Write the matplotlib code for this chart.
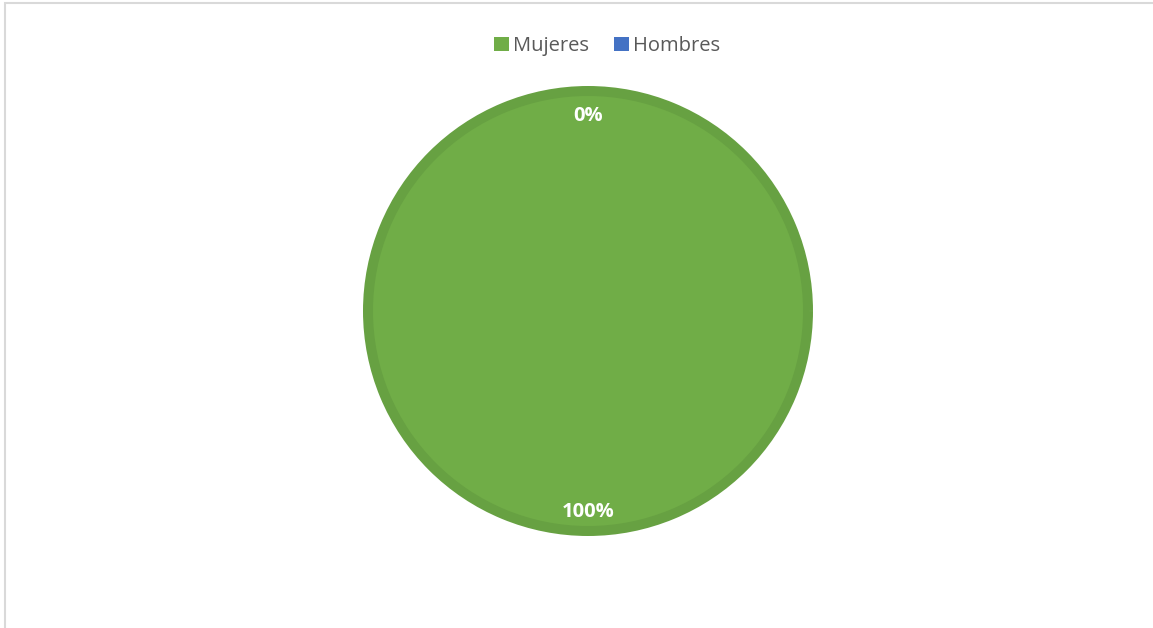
import matplotlib.pyplot as plt
from matplotlib.patches import Rectangle

# data
labels = ["Mujeres", "Hombres"]
values = [100, 0]
colors = ["#70AD47", "#4472C4"]
edge_colors = ["#67A142", "#4472C4"]

plt.rcParams['font.family'] = ['Open Sans', 'DejaVu Sans']

W, H = 1153, 628
fig = plt.figure(figsize=(W / 100, H / 100), dpi=100)

# chart frame (only left and top edges visible in the original crop)
fig.patches.append(Rectangle((5 / W, -0.1), 1.2, (H - 3) / H + 0.1,
                             transform=fig.transFigure, fill=False,
                             edgecolor="#D9D9D9", linewidth=1.5))

cx, cy, R = 588, 311, 225
ax = fig.add_axes([(cx - R) / W, (H - cy - R) / H, 2 * R / W, 2 * R / H])

wedges, texts, autotexts = ax.pie(values, colors=colors, startangle=90,
                                  counterclock=False, radius=220 / 225,
                                  autopct="%1.0f%%", pctdistance=0.9,
                                  textprops=dict(color="white", fontsize=14.5,
                                                 fontweight="bold"))
for w, ec, v in zip(wedges, edge_colors, values):
    if v > 0:
        w.set_edgecolor(ec)
        w.set_linewidth(7.2)
    else:
        w.set_linewidth(0)
# nudge labels down a few pixels, like the original
for t in autotexts:
    x, y = t.get_position()
    t.set_position((x, y - 0.014))
ax.set_xlim(-1, 1)
ax.set_ylim(-1, 1)
ax.set_aspect("equal")
ax.axis("off")

handles = [Rectangle((0, 0), 1, 1, facecolor=c) for c in colors]
fig.legend(handles, labels, loc="center", bbox_to_anchor=(607 / W, 1 - 46 / H),
           ncol=2, frameon=False, fontsize=14.5, handlelength=0.75, handleheight=0.75,
           handletextpad=0.2, columnspacing=1.2, labelcolor="#595959")

fig.savefig("out.png", dpi=100)
